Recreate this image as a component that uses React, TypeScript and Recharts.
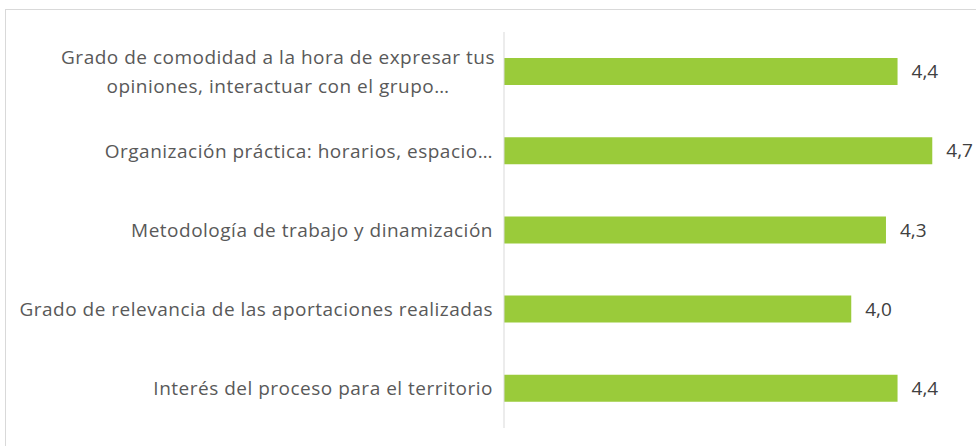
import React from 'react'
import { BarChart, Bar, XAxis, YAxis, LabelList } from 'recharts'

// labels as shown in the picture; "\n" marks a line break
const categories = [
  'Grado de comodidad a la hora de expresar tus\nopiniones, interactuar con el grupo…',
  'Organización práctica: horarios, espacio…',
  'Metodología de trabajo y dinamización',
  'Grado de relevancia de las aportaciones realizadas',
  'Interés del proceso para el territorio',
]
const scores = [4.4, 4.7, 4.3, 4.0, 4.4]
const scaleDomain = [1, 5]

const data = categories.map((name, i) => ({ name, value: scores[i] }))

const FONT = '"Open Sans", sans-serif'

const CategoryTick = (props: any) => {
  const { x, y, payload } = props
  const lines: string[] = String(payload.value).split('\n')
  const lineHeight = 29
  const startY = y - ((lines.length - 1) * lineHeight) / 2
  const multi = lines.length > 1
  return (
    <text
      x={x - 3}
      y={startY}
      fill="#595959"
      fontSize={19}
      letterSpacing={0.5}
      fontFamily={FONT}
      dominantBaseline="central"
    >
      {lines.map((line, i) => (
        <tspan
          key={i}
          x={multi ? x - 3 - 215 : x - 3}
          y={startY + i * lineHeight}
          textAnchor={multi ? 'middle' : 'end'}
        >
          {line}
        </tspan>
      ))}
    </text>
  )
}

const formatScore = (v: any) => Number(v).toFixed(1).replace('.', ',')

export default function App() {
  return (
    <div
      style={{
        position: 'absolute',
        left: 0,
        top: 0,
        width: 976,
        height: 446,
        background: '#fff',
        overflow: 'hidden',
      }}
    >
      <div
        style={{
          position: 'absolute',
          left: 5,
          top: 9,
          width: 980,
          height: 450,
          borderTop: '1px solid #d9d9d9',
          borderLeft: '1px solid #d9d9d9',
        }}
      />
      <div style={{ position: 'absolute', left: 0, top: 0 }}>
        <BarChart
          width={976}
          height={446}
          data={data}
          layout="vertical"
          margin={{ top: 32, right: 9, bottom: 18, left: 0 }}
          barSize={27}
        >
          <XAxis type="number" domain={scaleDomain} hide allowDataOverflow />
          <YAxis
            type="category"
            dataKey="name"
            width={504}
            axisLine={{ stroke: '#d9d9d9' }}
            tickLine={false}
            tick={<CategoryTick />}
            interval={0}
          />
          <Bar dataKey="value" fill="#9ACB3A" isAnimationActive={false}>
            <LabelList
              dataKey="value"
              position="right"
              offset={14}
              formatter={formatScore}
              fill="#404040"
              fontSize={19}
              fontFamily={FONT}
            />
          </Bar>
        </BarChart>
      </div>
    </div>
  )
}
